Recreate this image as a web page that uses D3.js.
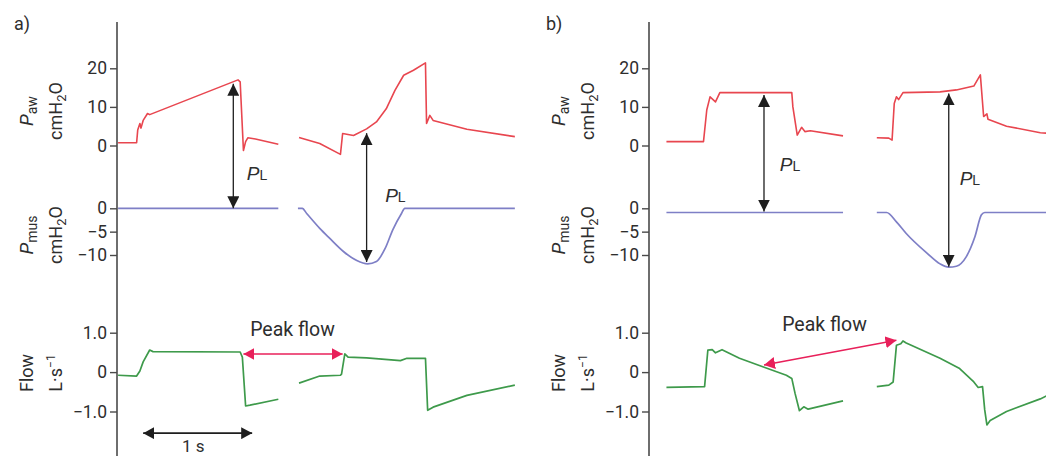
<!DOCTYPE html>
<html>
<head>
<meta charset="utf-8">
<script src="https://cdn.jsdelivr.net/npm/d3@7"></script>
<style>
  body { margin: 0; background: #fff; }
  svg { display: block; font-family: Roboto, "Open Sans", sans-serif; }
</style>
</head>
<body>
<svg id="chart" width="1046" height="456"></svg>
<script>
// ---- data (time in s, Paw/Pmus in cmH2O, flow in L/s) ----
const pawTicks = [0, 10, 20];
const pmusTicks = [-10, -5, 0];
const flowTicks = [-1, 0, 1];

// panel a
const pawA1 = [[0.01,0.7],[0.18,0.7],[0.19,4.0],[0.21,5.7],[0.22,4.5],[0.24,6.5],[0.28,8.3],[0.30,8.0],[1.11,17.0],[1.13,16.5],[1.16,-1.3],[1.18,1.0],[1.20,2.0],[1.27,1.7],[1.48,0.3]];
const pawA2 = [[1.67,2.1],[1.86,0.5],[2.05,-2.3],[2.07,3.1],[2.17,2.6],[2.29,4.3],[2.38,6.1],[2.47,9.5],[2.55,14.3],[2.63,18.2],[2.72,19.5],[2.83,21.4],[2.84,5.7],[2.87,7.8],[2.90,6.5],[3.21,4.2],[3.65,2.3]];
const pmusA1 = [[0.01,0],[1.48,0]];
const pmusA2 = [[1.66,0],[1.70,0],[1.74,-1.1],[1.86,-4.3],[1.95,-6.4],[2.08,-9.3],[2.20,-11.2],[2.30,-11.9],[2.38,-11.4],[2.46,-8.6],[2.53,-4.6],[2.61,-1.1],[2.64,0],[3.65,0]];
const flowA1 = [[0.01,-0.08],[0.18,-0.1],[0.21,0.03],[0.24,0.26],[0.30,0.56],[0.33,0.52],[1.13,0.51],[1.15,0.38],[1.18,-0.86],[1.22,-0.84],[1.48,-0.69]];
const flowA2 = [[1.67,-0.28],[1.86,-0.1],[2.05,-0.08],[2.06,-0.05],[2.09,0.46],[2.12,0.38],[2.29,0.36],[2.60,0.29],[2.66,0.35],[2.83,0.35],[2.85,-0.97],[2.90,-0.89],[3.21,-0.59],[3.65,-0.33]];

// panel b
const pawB1 = [[0.16,1.0],[0.50,1.0],[0.53,9.2],[0.56,12.6],[0.61,11.3],[0.65,13.7],[1.31,13.7],[1.32,10.0],[1.36,2.7],[1.40,4.7],[1.43,3.6],[1.48,3.8],[1.78,2.5]];
const pawB2 = [[2.09,2.0],[2.20,1.9],[2.23,1.4],[2.25,10.9],[2.27,12.6],[2.29,11.9],[2.33,13.7],[2.67,13.9],[2.82,14.4],[2.98,15.4],[3.04,18.3],[3.07,7.5],[3.10,8.2],[3.11,6.8],[3.28,5.0],[3.59,3.3],[3.65,3.2]];
const pmusB1 = [[0.16,-0.9],[1.78,-0.9]];
const pmusB2 = [[2.09,-0.9],[2.18,-0.9],[2.27,-2.9],[2.36,-5.4],[2.55,-9.6],[2.67,-11.9],[2.75,-12.6],[2.82,-12.4],[2.91,-10.4],[2.99,-6.1],[3.05,-1.4],[3.08,-0.9],[3.65,-0.9]];
const flowB1 = [[0.16,-0.39],[0.51,-0.37],[0.54,0.56],[0.58,0.57],[0.61,0.49],[0.67,0.57],[0.83,0.35],[1.05,0.13],[1.26,-0.08],[1.31,-0.16],[1.34,-0.54],[1.38,-0.98],[1.42,-0.88],[1.46,-0.94],[1.78,-0.73]];
const flowB2 = [[2.09,-0.37],[2.20,-0.33],[2.24,-0.25],[2.27,0.68],[2.31,0.72],[2.33,0.79],[2.36,0.74],[2.67,0.35],[2.85,0.09],[2.98,-0.25],[3.02,-0.39],[3.06,-0.37],[3.08,-0.96],[3.10,-1.34],[3.13,-1.23],[3.28,-1.0],[3.59,-0.68],[3.65,-0.6]];

// PL arrows: time, Paw at top tip, Pmus at bottom tip, label time / label Paw-level
const plA = [{t:1.067, paw:16.0, pmus:0, lt:1.19, lv:-8.9}, {t:2.29, paw:3.2, pmus:-11.5, lt:2.46, lv:-14.6}];
const plB = [{t:1.055, paw:13.1, pmus:-0.7, lt:1.20, lv:-6.5}, {t:2.75, paw:13.5, pmus:-12.5, lt:2.85, lv:-10.2}];

// Peak flow arrows: [t, flow] start & end, label [t, flow]
const peakA = {from:[1.16,0.46], to:[2.07,0.46], label:[1.61,0.92]};
const peakB = {from:[1.055,0.18], to:[2.27,0.81], label:[1.61,1.05]};

// 1 s bar (panel a only)
const oneSec = {from:0.24, to:1.24, flow:-1.55, label:[0.70,-2.03]};

const panels = [
  {name:"a)", axisX:117, paw:[pawA1,pawA2], pmus:[pmusA1,pmusA2], flow:[flowA1,flowA2], pl:plA, peak:peakA, bar:oneSec},
  {name:"b)", axisX:649, paw:[pawB1,pawB2], pmus:[pmusB1,pmusB2], flow:[flowB1,flowB2], pl:plB, peak:peakB, bar:null}
];

// ---- drawing ----
const svg = d3.select("#chart");
const pxPerSec = 109;

const yPaw = d3.scaleLinear().domain([0, 20]).range([145.5, 68.3]);
const yPmus = d3.scaleLinear().domain([-10, 0]).range([255, 208.3]);
const yFlow = d3.scaleLinear().domain([-1, 1]).range([411.5, 332.7]);

const textCol = "#2e2e2e";
const redCol = "#e8464f";
const blueCol = "#7e7fc6";
const greenCol = "#3e9a4b";
const pinkCol = "#e8205a";

const defs = svg.append("defs");
function addMarker(id, color, len, wid) {
    defs.append("marker")
        .attr("id", id)
        .attr("viewBox", `0 0 ${len} ${wid}`)
        .attr("refX", len)
        .attr("refY", wid / 2)
        .attr("markerWidth", len)
        .attr("markerHeight", wid)
        .attr("markerUnits", "userSpaceOnUse")
        .attr("orient", "auto-start-reverse")
        .append("path")
        .attr("d", `M0,0 L${len},${wid/2} L0,${wid} Z`)
        .attr("fill", color);
}
addMarker("headBlack", "#1e1e1e", 12, 12);
addMarker("headPink", pinkCol, 11, 12);
addMarker("headBar", "#1e1e1e", 11, 12);

function fmt(d, dec) {
    if (d === 0) return "0";
    const s = dec ? Math.abs(d).toFixed(dec) : String(Math.abs(d));
    return (d < 0 ? "\u2212" : "") + s;
}

// rotated axis title with optional sub/sup parts
function rotLabel(g, x, y, parts) {
    const t = g.append("text")
        .attr("transform", `translate(${x},${y}) rotate(-90)`)
        .attr("text-anchor", "middle")
        .attr("fill", textCol);
    parts.forEach(p => {
        const ts = t.append("tspan").text(p.text)
            .style("font-size", (p.size || 18) + "px");
        if (p.italic) ts.style("font-style", "italic");
        if (p.dy) ts.attr("dy", p.dy);
    });
}

panels.forEach(panel => {
    const g = svg.append("g");
    const x = d3.scaleLinear().domain([0, 1]).range([panel.axisX, panel.axisX + pxPerSec]);

    // panel letter
    g.append("text")
        .attr("x", panel.axisX - 103)
        .attr("y", 30)
        .attr("fill", textCol)
        .style("font-size", "18px")
        .text(panel.name);

    // long vertical axis line
    g.append("line")
        .attr("x1", panel.axisX).attr("x2", panel.axisX)
        .attr("y1", 22).attr("y2", 456)
        .attr("stroke", "#4a4a4a")
        .attr("stroke-width", 1.6);

    // tick axes
    const axes = [
        {scale:yPaw, ticks:pawTicks, dec:0},
        {scale:yPmus, ticks:pmusTicks, dec:0},
        {scale:yFlow, ticks:flowTicks, dec:1}
    ];
    axes.forEach(a => {
        const ax = g.append("g")
            .attr("transform", `translate(${panel.axisX},0)`)
            .call(d3.axisLeft(a.scale).tickValues(a.ticks).tickSize(7).tickPadding(3)
                .tickFormat(d => fmt(d, a.dec)));
        ax.select(".domain").remove();
        ax.selectAll(".tick line").attr("stroke", "#4a4a4a").attr("stroke-width", 1.4);
        ax.selectAll(".tick text")
            .attr("fill", textCol)
            .style("font-size", "17.5px")
            .style("font-family", "Roboto, sans-serif");
    });

    // axis titles
    const lx = panel.axisX - 84;
    rotLabel(g, lx, 111, [{text:"P", italic:true, size:19}, {text:"aw", size:14, dy:4}]);
    rotLabel(g, lx + 29, 111, [{text:"cmH"}, {text:"2", size:13, dy:4}, {text:"O", dy:-4}]);
    rotLabel(g, lx, 235, [{text:"P", italic:true, size:19}, {text:"mus", size:14, dy:4}]);
    rotLabel(g, lx + 29, 235, [{text:"cmH"}, {text:"2", size:13, dy:4}, {text:"O", dy:-4}]);
    rotLabel(g, lx, 373, [{text:"Flow"}]);
    rotLabel(g, lx + 29, 373, [{text:"L\u00B7s"}, {text:"\u22121", size:12, dy:-7}]);

    // traces
    const lineOf = (yScale, curve) => d3.line()
        .x(d => x(d[0]))
        .y(d => yScale(d[1]))
        .curve(curve);

    panel.paw.forEach(seg => {
        g.append("path").datum(seg)
            .attr("d", lineOf(yPaw, d3.curveLinear))
            .attr("fill", "none").attr("stroke", redCol)
            .attr("stroke-width", 1.6).attr("stroke-linejoin", "round");
    });
    panel.pmus.forEach(seg => {
        g.append("path").datum(seg)
            .attr("d", lineOf(yPmus, d3.curveMonotoneX))
            .attr("fill", "none").attr("stroke", blueCol)
            .attr("stroke-width", 1.7);
    });
    panel.flow.forEach(seg => {
        g.append("path").datum(seg)
            .attr("d", lineOf(yFlow, d3.curveLinear))
            .attr("fill", "none").attr("stroke", greenCol)
            .attr("stroke-width", 1.7).attr("stroke-linejoin", "round");
    });

    // PL arrows and labels
    panel.pl.forEach(p => {
        g.append("line")
            .attr("x1", x(p.t)).attr("x2", x(p.t))
            .attr("y1", yPaw(p.paw)).attr("y2", yPmus(p.pmus))
            .attr("stroke", "#1e1e1e").attr("stroke-width", 1.3)
            .attr("marker-start", "url(#headBlack)")
            .attr("marker-end", "url(#headBlack)");
        const t = g.append("text")
            .attr("x", x(p.lt)).attr("y", yPaw(p.lv))
            .attr("fill", textCol);
        t.append("tspan").text("P").style("font-style", "italic").style("font-size", "19px")
            .style("font-family", "'Liberation Sans', Arial, sans-serif");
        t.append("tspan").text("L").style("font-size", "14px")
            .style("font-family", "'Liberation Sans', Arial, sans-serif");
    });

    // Peak flow arrow
    const pk = panel.peak;
    g.append("line")
        .attr("x1", x(pk.from[0])).attr("y1", yFlow(pk.from[1]))
        .attr("x2", x(pk.to[0])).attr("y2", yFlow(pk.to[1]))
        .attr("stroke", pinkCol).attr("stroke-width", 1.5)
        .attr("marker-start", "url(#headPink)")
        .attr("marker-end", "url(#headPink)");
    g.append("text")
        .attr("x", x(pk.label[0])).attr("y", yFlow(pk.label[1]))
        .attr("text-anchor", "middle")
        .attr("fill", textCol)
        .style("font-size", "19.5px")
        .text("Peak flow");

    // 1 s scale bar
    if (panel.bar) {
        const b = panel.bar;
        g.append("line")
            .attr("x1", x(b.from)).attr("x2", x(b.to))
            .attr("y1", yFlow(b.flow)).attr("y2", yFlow(b.flow))
            .attr("stroke", "#1e1e1e").attr("stroke-width", 1.6)
            .attr("marker-start", "url(#headBar)")
            .attr("marker-end", "url(#headBar)");
        g.append("text")
            .attr("x", x(b.label[0])).attr("y", yFlow(b.label[1]))
            .attr("text-anchor", "middle")
            .attr("fill", textCol)
            .style("font-size", "17px")
            .text("1 s");
    }
});
</script>
</body>
</html>
